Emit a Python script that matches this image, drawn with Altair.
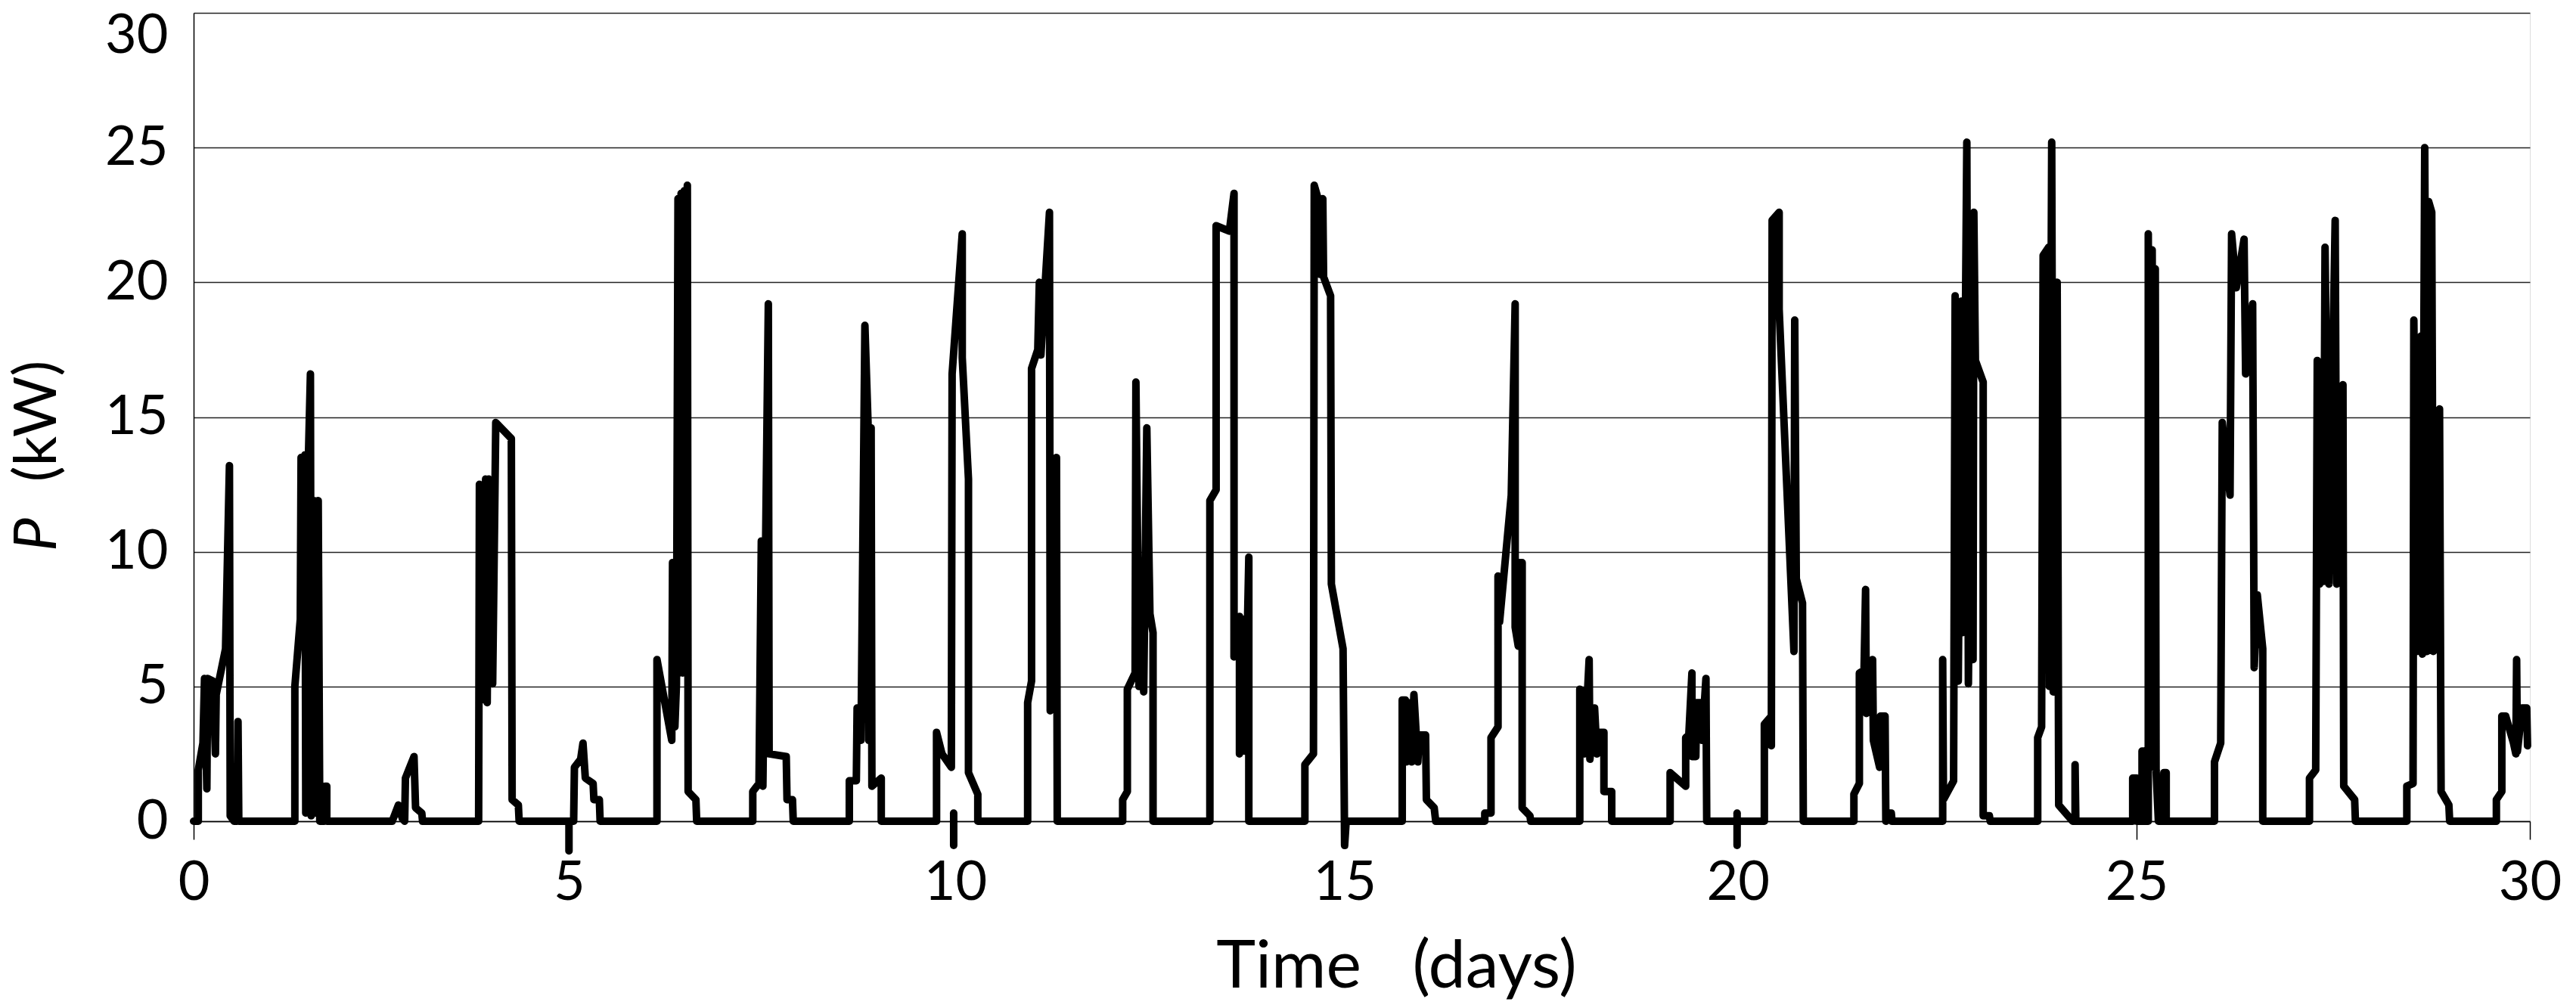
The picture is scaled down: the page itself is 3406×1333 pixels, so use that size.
import altair as alt
import pandas as pd

# ---- data: time (days) and power P (kW) ----
days = [
    0.00, 0.06, 0.06, 0.12, 0.14, 0.17, 0.18, 0.25, 0.28, 0.29, 0.41, 0.46, 0.47, 0.52, 0.56, 0.57, 0.58,
    1.30, 1.30, 1.37, 1.38, 1.40, 1.43, 1.44, 1.47, 1.50, 1.51, 1.55, 1.57, 1.60, 1.62, 1.68, 1.69, 1.71, 1.71,
    2.55, 2.63, 2.68, 2.71, 2.72, 2.83, 2.85, 2.93, 2.94,
    3.66, 3.67, 3.70, 3.75, 3.77, 3.79, 3.84, 3.88, 4.08, 4.09, 4.17, 4.18,
    4.88, 4.89, 4.97, 5.00, 5.03, 5.13, 5.14, 5.21, 5.22,
    5.95, 5.95, 6.14, 6.15, 6.18, 6.20, 6.22, 6.24, 6.26, 6.28, 6.30, 6.32, 6.34, 6.35, 6.45, 6.46,
    7.18, 7.18, 7.26, 7.29, 7.31, 7.38, 7.39, 7.61, 7.62, 7.69, 7.70,
    8.42, 8.42, 8.51, 8.52, 8.56, 8.57, 8.62, 8.66, 8.67, 8.70, 8.71, 8.83, 8.83,
    9.54, 9.54, 9.61, 9.73, 9.74, 9.87, 9.87, 9.95, 9.95, 10.07, 10.07,
    10.71, 10.71, 10.76, 10.76, 10.84, 10.86, 10.88, 10.99, 11.00, 11.08, 11.09,
    11.93, 11.93, 11.99, 11.99, 12.09, 12.10, 12.14, 12.18, 12.20, 12.24, 12.28, 12.32, 12.32,
    13.05, 13.05, 13.13, 13.13, 13.30, 13.36, 13.36, 13.43, 13.43, 13.50, 13.50, 13.55, 13.55,
    14.27, 14.27, 14.38, 14.39, 14.45, 14.46, 14.50, 14.51, 14.60, 14.61, 14.76, 14.78, 14.80,
    15.52, 15.52, 15.56, 15.57, 15.62, 15.64, 15.67, 15.72, 15.74, 15.82, 15.83, 15.93, 15.95,
    16.58, 16.58, 16.66, 16.66, 16.75, 16.75, 16.77, 16.92, 16.97, 16.97, 17.01, 17.02, 17.06, 17.06, 17.16, 17.17,
    17.80, 17.80, 17.85, 17.86, 17.92, 17.93, 17.99, 18.02, 18.03, 18.11, 18.11, 18.21, 18.21,
    18.96, 18.96, 19.16, 19.16, 19.20, 19.24, 19.24, 19.29, 19.30, 19.36, 19.37, 19.42, 19.43,
    20.17, 20.17, 20.26, 20.26, 20.27, 20.36, 20.36, 20.55, 20.56, 20.58, 20.66, 20.67,
    21.32, 21.32, 21.39, 21.39, 21.45, 21.47, 21.48, 21.55, 21.56, 21.57, 21.65, 21.66, 21.72, 21.73, 21.74, 21.80, 21.81,
    22.46, 22.46, 22.47, 22.60, 22.62, 22.66, 22.70, 22.72, 22.77, 22.79, 22.84, 22.85, 22.86, 22.88, 22.98, 22.98, 23.06, 23.07,
    23.68, 23.68, 23.73, 23.75, 23.82, 23.83, 23.86, 23.88, 23.93, 23.95, 24.13, 24.16, 24.16, 24.17,
    24.90, 24.90, 24.95, 24.95, 25.02, 25.02, 25.05, 25.05, 25.10, 25.10, 25.12, 25.15, 25.17, 25.19, 25.20, 25.23, 25.30, 25.30, 25.33, 25.33,
    25.95, 25.95, 26.03, 26.05, 26.15, 26.17, 26.23, 26.33, 26.35, 26.44, 26.46, 26.50, 26.57, 26.57,
    27.17, 27.17, 27.25, 27.27, 27.30, 27.33, 27.35, 27.37, 27.42, 27.50, 27.52, 27.60, 27.61, 27.75, 27.76,
    28.42, 28.42, 28.50, 28.51, 28.55, 28.60, 28.62, 28.65, 28.68, 28.70, 28.74, 28.76, 28.84, 28.86, 28.96, 28.97,
    29.57, 29.57, 29.64, 29.64, 29.69, 29.79, 29.82, 29.83, 29.84, 29.90, 29.96, 29.97,
]

power_kw = [
    0, 0, 1.9, 2.9, 5.3, 1.2, 5.3, 5.2, 2.5, 4.7, 6.4, 13.2, 0.2, 0, 0, 3.7, 0,
    0, 5.0, 7.5, 13.5, 7.2, 13.6, 0.3, 13.0, 16.6, 0.2, 11.9, 0.3, 11.9, 0, 0, 1.3, 1.3, 0,
    0, 0.6, 0.1, 0, 1.6, 2.4, 0.5, 0.3, 0,
    0, 12.5, 4.5, 12.7, 4.4, 12.7, 5.1, 14.8, 14.2, 0.8, 0.6, 0,
    0, 2.0, 2.3, 2.9, 1.6, 1.4, 0.8, 0.8, 0,
    0, 6.0, 3.0, 9.6, 3.5, 5.1, 23.1, 5.5, 23.3, 5.5, 23.4, 5.5, 23.6, 1.1, 0.8, 0,
    0, 1.1, 1.4, 10.4, 1.3, 19.2, 2.5, 2.4, 0.8, 0.8, 0,
    0, 1.5, 1.5, 4.2, 4.2, 3.0, 18.4, 14.8, 3.0, 14.6, 1.3, 1.6, 0,
    0, 3.3, 2.5, 2.0, 16.6, 21.8, 17.2, 12.7, 1.8, 1.0, 0,
    0, 4.4, 5.2, 16.8, 17.5, 20.0, 17.3, 22.6, 4.1, 13.5, 0,
    0, 0.8, 1.1, 4.9, 5.5, 16.3, 5.0, 9.0, 4.8, 14.6, 7.7, 7.0, 0,
    0, 11.9, 12.3, 22.1, 21.9, 23.3, 6.1, 7.6, 2.5, 7.5, 2.6, 9.8, 0,
    0, 2.1, 2.5, 23.6, 23.0, 20.3, 23.1, 20.2, 19.5, 8.8, 6.4, -0.9, 0,
    0, 4.5, 4.5, 2.2, 4.4, 2.2, 4.7, 2.2, 3.2, 3.2, 0.8, 0.5, 0,
    0, 0.3, 0.3, 3.1, 3.5, 9.1, 7.4, 12.1, 19.2, 7.2, 6.5, 9.6, 9.6, 0.5, 0.2, 0,
    0, 4.9, 4.8, 2.5, 6.0, 2.3, 4.2, 2.5, 3.3, 3.3, 1.1, 1.1, 0,
    0, 1.8, 1.3, 3.1, 3.2, 5.5, 2.4, 2.4, 4.4, 4.4, 3.0, 5.3, 0,
    0, 3.6, 3.9, 2.8, 22.3, 22.6, 19.0, 6.3, 18.6, 9.0, 8.1, 0,
    0, 1.0, 1.4, 5.5, 5.6, 8.6, 4.0, 4.2, 6.0, 3.0, 2.0, 3.9, 3.9, 0, 0.3, 0.3, 0,
    0, 6.0, 0.8, 1.5, 19.5, 5.2, 19.3, 7.0, 25.2, 5.1, 21.0, 6.0, 22.6, 17.1, 16.3, 0.2, 0.2, 0,
    0, 3.1, 3.5, 21.0, 21.3, 5.0, 25.2, 4.8, 20.0, 0.6, 0, 0, 2.1, 0,
    0, 1.6, 1.6, 0, 0, 2.6, 2.6, 0, 0, 21.8, 2.0, 21.2, 2.0, 20.5, 1.9, 0, 0, 1.8, 1.8, 0,
    0, 2.2, 2.9, 14.8, 12.1, 21.8, 19.8, 21.6, 16.6, 19.2, 5.7, 8.4, 6.4, 0,
    0, 1.6, 1.9, 17.1, 8.8, 16.5, 8.9, 21.3, 8.8, 22.3, 8.8, 16.2, 1.3, 0.8, 0,
    0, 1.3, 1.4, 18.6, 6.3, 18.0, 6.2, 25.0, 6.3, 23.0, 22.6, 6.3, 15.3, 1.1, 0.6, 0,
    0, 0.8, 1.1, 3.9, 3.9, 2.9, 2.5, 6.0, 2.6, 4.2, 4.2, 2.8,
]

# short dips of the trace below the time axis
dip_days = [4.82, 9.76, 19.82]
dip_top = [0.0, 0.3, 0.3]
dip_bottom = [-1.1, -0.9, -0.9]

# x tick positions as they sit in the picture, and their labels
x_tick_pos = [0, 4.82, 9.78, 14.78, 19.83, 24.95, 30]
x_tick_text = ["0", "5", "10", "15", "20", "25", "30"]
y_ticks = [0, 5, 10, 15, 20, 25, 30]

n = min(len(days), len(power_kw))
df = pd.DataFrame({"day": days[:n], "p": power_kw[:n], "i": list(range(n))})
dips = pd.DataFrame({"day": dip_days, "top": dip_top, "bottom": dip_bottom})

label_expr = " : ".join(
    f"abs(datum.value - {v}) < 0.01 ? '{t}'" for v, t in zip(x_tick_pos, x_tick_text)
) + " : ''"

W, H = 3089, 1069
LABEL_FONT = "Lato"

x_scale = alt.Scale(domain=[0, 30], nice=False, zero=False)
y_scale = alt.Scale(domain=[0, 30], nice=False)

x_axis = alt.Axis(
    values=x_tick_pos, labelExpr=label_expr, title="Time\u00a0\u00a0\u00a0(days)",
    grid=False, domain=True, domainColor="#000", domainWidth=1.5,
    ticks=True, tickSize=24, tickColor="#000", tickWidth=1.5,
    labelFont=LABEL_FONT, labelFontSize=72, labelColor="#000", labelPadding=22,
    labelFlush=False, labelOverlap=False,
    titleFont=LABEL_FONT, titleFontSize=88, titleFontWeight="normal", titleColor="#000",
    titleX=1590, titleY=219, titleBaseline="alphabetic", titleAnchor="middle",
)

y_axis = alt.Axis(
    values=y_ticks, title=None, grid=True, gridColor="#222", gridWidth=1.5,
    domain=True, domainColor="#000", domainWidth=1.5, ticks=False,
    labelFont=LABEL_FONT, labelFontSize=72, labelColor="#000", labelPadding=34,
    labelAlign="right", labelBaseline="middle", labelFlush=False,
    labelOffset=alt.condition("datum.value == 30", alt.value(30), alt.value(0)),
)

line = alt.Chart(df).mark_line(
    color="#000", strokeWidth=10, strokeJoin="round", strokeCap="round"
).encode(
    x=alt.X("day:Q", scale=x_scale, axis=x_axis),
    y=alt.Y("p:Q", scale=y_scale, axis=y_axis),
    order=alt.Order("i:Q"),
)

dip_rules = alt.Chart(dips).mark_rule(
    color="#000", strokeWidth=10, strokeCap="round"
).encode(
    x=alt.X("day:Q", scale=x_scale),
    y=alt.Y("top:Q", scale=y_scale),
    y2="bottom:Q",
)

title_p = alt.Chart(pd.DataFrame({"t": ["P"]})).mark_text(
    font=LABEL_FONT, fontSize=78, fontStyle="italic", angle=270,
    align="center", baseline="middle", color="#000",
).encode(text="t:N", x=alt.value(-205), y=alt.value(690))

title_kw = alt.Chart(pd.DataFrame({"t": ["(kW)"]})).mark_text(
    font=LABEL_FONT, fontSize=78, angle=270,
    align="center", baseline="middle", color="#000",
).encode(text="t:N", x=alt.value(-205), y=alt.value(540))

chart = alt.layer(line, dip_rules, title_p, title_kw).properties(
    width=W, height=H,
    autosize=alt.AutoSizeParams(type="none"),
    padding={"left": 248, "top": 9, "right": 52, "bottom": 243},
).configure_view(
    stroke="#000", strokeWidth=1.5
).configure(background="white")

chart.save("out.html", embed_options={"renderer": "svg", "actions": False})
